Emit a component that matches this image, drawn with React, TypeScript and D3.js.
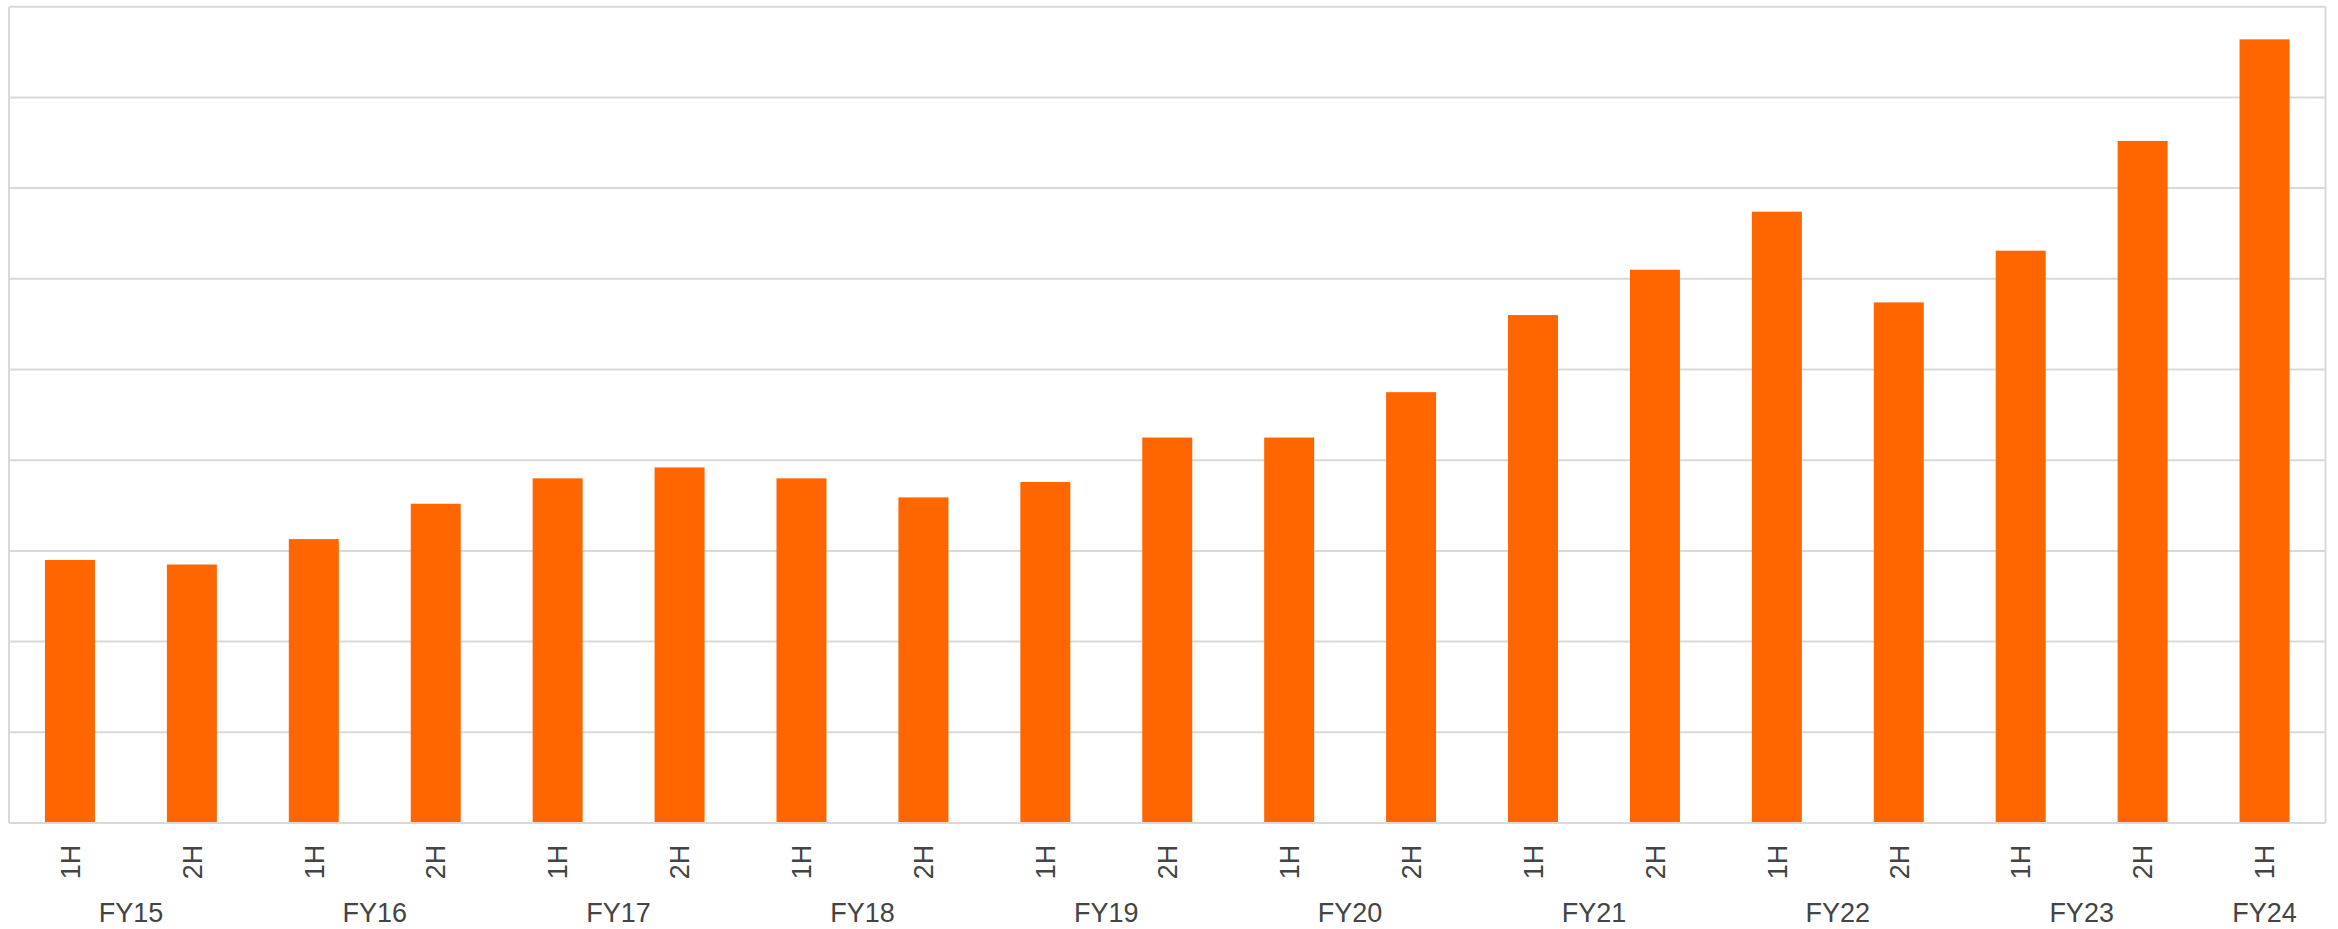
import React from "react";
import * as d3 from "d3";

// Half-year periods, in order, with the fiscal year each belongs to
const halves = ["1H", "2H", "1H", "2H", "1H", "2H", "1H", "2H", "1H", "2H", "1H", "2H", "1H", "2H", "1H", "2H", "1H", "2H", "1H"];
const fiscalYears = ["FY15", "FY15", "FY16", "FY16", "FY17", "FY17", "FY18", "FY18", "FY19", "FY19", "FY20", "FY20", "FY21", "FY21", "FY22", "FY22", "FY23", "FY23", "FY24"];
const values = [2.9, 2.85, 3.13, 3.52, 3.8, 3.92, 3.8, 3.59, 3.76, 4.25, 4.25, 4.75, 5.6, 6.1, 6.74, 5.74, 6.31, 7.52, 8.64];
const gridTicks = [0, 1, 2, 3, 4, 5, 6, 7, 8, 9];

const W = 2338;
const H = 929;
const plot = { left: 9, right: 2325.5, top: 6.7, bottom: 823 };

export default function App() {
  const ids = values.map((_, i) => String(i));
  const x = d3.scaleBand<string>().domain(ids).range([plot.left, plot.right]).paddingInner(0.59).paddingOuter(0.295);
  const y = d3.scaleLinear().domain([0, 9]).range([plot.bottom, plot.top]);

  const center = (i: number) => (x(String(i)) as number) + x.bandwidth() / 2;

  const years = Array.from(new Set(fiscalYears));
  const yearPos = years.map((fy) => {
    const idx = fiscalYears.map((f, i) => (f === fy ? i : -1)).filter((i) => i >= 0);
    return { fy, cx: d3.mean(idx.map(center)) as number };
  });

  const font = "'Liberation Sans', Arial, sans-serif";
  const textColor = "#444444";

  return (
    <svg width={W} height={H} style={{ position: "absolute", left: 0, top: 0, background: "#fff" }}>
      {gridTicks.map((t) => (
        <line key={t} x1={plot.left} x2={plot.right} y1={y(t)} y2={y(t)} stroke="#d9d9d9" strokeWidth={2} />
      ))}
      <line x1={plot.left} x2={plot.left} y1={plot.top} y2={plot.bottom} stroke="#d9d9d9" strokeWidth={2} />
      <line x1={plot.right} x2={plot.right} y1={plot.top} y2={plot.bottom} stroke="#d9d9d9" strokeWidth={2} />
      {values.map((v, i) => (
        <rect
          key={i}
          x={x(String(i))}
          y={y(v)}
          width={x.bandwidth()}
          height={y(0) - y(v)}
          fill="#ff6600"
        />
      ))}
      <line x1={plot.left} x2={plot.right} y1={plot.bottom} y2={plot.bottom} stroke="#d9d9d9" strokeWidth={2} />
      {halves.map((h, i) => (
        <text
          key={i}
          transform={`translate(${center(i)},862) rotate(-90)`}
          textAnchor="middle"
          dy="0.36em"
          fontFamily={font}
          fontSize={27}
          fill={textColor}
        >
          {h}
        </text>
      ))}
      {yearPos.map((d) => (
        <text key={d.fy} x={d.cx} y={922} textAnchor="middle" fontFamily={font} fontSize={27} fill={textColor}>
          {d.fy}
        </text>
      ))}
    </svg>
  );
}
